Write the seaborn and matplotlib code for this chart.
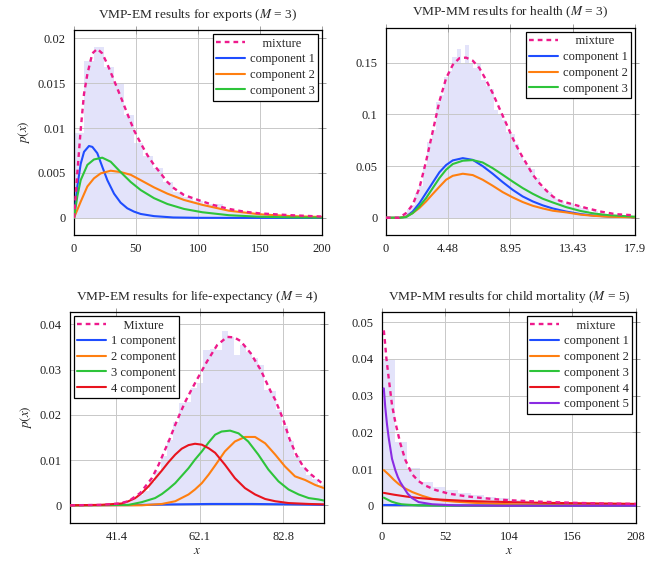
import numpy as np
import pandas as pd
import seaborn as sns
import matplotlib.pyplot as plt

# ---- exports (VMP-EM, M=3) ----
exp_mix_x = [0, 2.7, 5.4, 8.1, 10.8, 14.8, 18.8, 22.8, 26.9, 32.3, 37.6, 43, 48.4, 53.8, 59.1, 64.5,
             69.9, 75.3, 80.6, 88.7, 100, 112, 125, 137, 150, 175, 200]
exp_mix_y = [0, 0.0050, 0.0098, 0.0138, 0.0160, 0.0183, 0.0188, 0.0183, 0.0171, 0.0153, 0.0135, 0.0116,
             0.00975, 0.0083, 0.0070, 0.0059, 0.00495, 0.0040, 0.0033, 0.00255, 0.0020, 0.00145, 0.0010,
             0.0007, 0.0005, 0.0003, 0.00015]
exp_c1_x = [0, 2.7, 5.4, 8.1, 12.1, 14.8, 18.8, 22.8, 26.9, 32.3, 37.6, 43, 48.4, 53.8, 64.5, 80, 100, 150, 200]
exp_c1_y = [0, 0.0035, 0.0060, 0.00735, 0.0080, 0.0079, 0.0072, 0.0057, 0.0042, 0.0027, 0.0017, 0.00107,
            0.0007, 0.00044, 0.0002, 0.00005, 0.00001, 0, 0]
exp_c2_x = [0, 2.7, 5.4, 10.8, 16.1, 21.5, 29.6, 37.6, 45.7, 53.8, 64.5, 75.3, 88.7, 103.5, 125, 150, 175, 200]
exp_c2_y = [0, 0.0009, 0.0018, 0.0035, 0.0044, 0.00495, 0.00525, 0.0051, 0.0048, 0.0042, 0.0034, 0.0027,
            0.0020, 0.00145, 0.0008, 0.0004, 0.0002, 0.0001]
exp_c3_x = [0, 2.7, 5.4, 10.8, 16.1, 22.8, 29.6, 37.6, 45.7, 53.8, 64.5, 75.3, 88.7, 103.5, 125, 150, 175, 200]
exp_c3_y = [0, 0.0024, 0.0042, 0.0059, 0.0065, 0.0067, 0.00625, 0.0051, 0.0040, 0.0031, 0.0022, 0.00155,
            0.0010, 0.00063, 0.0003, 0.00013, 0.00006, 0.00003]
exp_hist = [0.0095, 0.0175, 0.0190, 0.0168, 0.0150, 0.0114, 0.0083, 0.0069, 0.0056, 0.0040, 0.0029, 0.0023,
            0.0019, 0.0016, 0.0015, 0.0009, 0.0007, 0.0006, 0.0005, 0.0004, 0.0003, 0.0003, 0.0002, 0.0002,
            0.0001]

# ---- health (VMP-MM, M=3) ----
hea_mix_x = [0, 0.96, 1.44, 1.92, 2.40, 2.88, 3.36, 3.84, 4.32, 4.80, 5.28, 5.76, 6.24, 6.71, 7.19, 7.67,
             8.15, 8.63, 9.11, 9.59, 10.07, 10.55, 11.03, 11.51, 11.99, 12.47, 13.43, 14.5, 15.5, 16.5, 17.9]
hea_mix_y = [0, 0, 0.0045, 0.0126, 0.0287, 0.0545, 0.0835, 0.1126, 0.135, 0.148, 0.1545, 0.155, 0.152,
             0.145, 0.1335, 0.1206, 0.106, 0.0916, 0.077, 0.064, 0.053, 0.0416, 0.0335, 0.0265, 0.0206,
             0.0165, 0.013, 0.009, 0.0058, 0.0035, 0.0023]
hea_c_x = [0, 0.96, 1.44, 1.92, 2.40, 2.88, 3.36, 3.84, 4.32, 4.80, 5.52, 6.24, 6.95, 7.67, 8.39, 9.11,
           9.83, 10.55, 11.27, 11.99, 12.95, 14, 15, 16, 17.9]
hea_c1_y = [0, 0, 0.001, 0.006, 0.014, 0.024, 0.034, 0.044, 0.051, 0.0555, 0.0577, 0.056, 0.050, 0.0426,
            0.0345, 0.027, 0.0206, 0.0158, 0.012, 0.009, 0.006, 0.0035, 0.002, 0.0012, 0.0005]
hea_c2_y = [0, 0, 0.001, 0.0045, 0.0094, 0.0158, 0.023, 0.030, 0.0368, 0.0406, 0.0426, 0.0413, 0.0368,
            0.031, 0.0248, 0.0197, 0.0152, 0.0116, 0.009, 0.0068, 0.0052, 0.003, 0.0018, 0.001, 0.0004]
hea_c3_y = [0, 0, 0.0006, 0.0045, 0.011, 0.019, 0.0287, 0.0384, 0.0465, 0.052, 0.0552, 0.0558, 0.0535,
            0.048, 0.0416, 0.035, 0.0287, 0.0232, 0.0184, 0.0148, 0.0103, 0.0065, 0.004, 0.0025, 0.001]
hea_hist = [0, 0, 0, 0.001, 0.004, 0.008, 0.012, 0.024, 0.031, 0.050,
            0.073, 0.085, 0.112, 0.119, 0.136, 0.142, 0.156, 0.163, 0.150, 0.167,
            0.149, 0.145, 0.150, 0.133, 0.128, 0.125, 0.104, 0.100, 0.095, 0.083,
            0.081, 0.071, 0.060, 0.055, 0.050, 0.047, 0.038, 0.030, 0.028, 0.025,
            0.020, 0.018, 0.016, 0.013, 0.014, 0.010, 0.011, 0.009, 0.008, 0.006,
            0.007, 0.005, 0.004, 0.004, 0.003, 0.003, 0.002, 0.002, 0.002, 0.001]

# ---- life expectancy (VMP-EM, M=4) ----
life_mix_x = [30, 38, 42, 44.4, 47.3, 50.2, 51.9, 53.1, 54.7, 56.0, 57.2, 58.5, 60.0, 61.4, 63.9, 66.4,
              68.9, 70.6, 72.2, 74.7, 77.2, 79.7, 80.8, 82.8, 84.4, 86.0, 87.7, 89.7, 91.8, 93]
life_mix_y = [0, 0.0001, 0.0004, 0.0009, 0.0027, 0.0060, 0.0090, 0.0115, 0.0148, 0.0178, 0.0203, 0.0229,
              0.0255, 0.0278, 0.0318, 0.0354, 0.0372, 0.0371, 0.0363, 0.0336, 0.0299, 0.0251, 0.0233,
              0.0189, 0.0145, 0.0112, 0.0086, 0.0068, 0.0053, 0.0045]
life_c1_x = [30, 45, 55, 65, 75, 85, 93]
life_c1_y = [0, 0.00005, 0.0002, 0.0003, 0.0003, 0.0002, 0.0001]
life_c2_x = [30, 47.7, 52.7, 56.0, 59.3, 60.9, 62.6, 64.3, 65.9, 68.3, 70.8, 73.3, 75.8, 78.3, 80.8, 83.2,
             85.7, 88.2, 90.7, 93.2]
life_c2_y = [0, 0, 0.0003, 0.0009, 0.0024, 0.0035, 0.0049, 0.0068, 0.0088, 0.0119, 0.0141, 0.0151, 0.0151,
             0.0137, 0.0112, 0.0086, 0.0064, 0.0056, 0.0045, 0.0037]
life_c3_x = [30, 44.4, 47.7, 51.0, 52.7, 54.3, 56.0, 57.6, 59.3, 60.9, 62.6, 64.3, 65.9, 67.5, 69.6, 71.7,
             74.1, 76.6, 79.1, 81.6, 84.1, 86.6, 89.1, 91.5, 93.2]
life_c3_y = [0, 0.0001, 0.0007, 0.0016, 0.0025, 0.0036, 0.0049, 0.0065, 0.0082, 0.0101, 0.0119, 0.0139,
             0.0156, 0.0163, 0.0165, 0.0159, 0.0141, 0.0112, 0.0079, 0.0053, 0.0035, 0.0024, 0.0016,
             0.0013, 0.0010]
life_c4_x = [30, 37.4, 42.7, 44.4, 46.1, 47.7, 49.4, 51.0, 52.7, 54.3, 56.0, 57.6, 59.3, 60.9, 62.6, 64.3,
             65.9, 68.3, 70.8, 73.3, 75.8, 78.3, 80.8, 84.1, 89.1, 93.2]
life_c4_y = [0, 0.0001, 0.0004, 0.0009, 0.0016, 0.0027, 0.0042, 0.0059, 0.0077, 0.0095, 0.0112, 0.0125,
             0.0133, 0.0136, 0.0134, 0.0126, 0.0116, 0.0090, 0.0060, 0.0038, 0.0024, 0.0014, 0.0009,
             0.0005, 0.0003, 0.0002]
life_hist = [0, 0, 0, 0, 0, 0, 0, 0.0002, 0.0005, 0.0008, 0.0015, 0.0022, 0.0032, 0.0052, 0.0075, 0.011,
             0.0145, 0.0185, 0.0225, 0.0228, 0.026, 0.027, 0.0342, 0.0345, 0.0342, 0.0386, 0.0372, 0.0332,
             0.0355, 0.0338, 0.0325, 0.031, 0.0255, 0.0252, 0.021, 0.0175, 0.0142, 0.011, 0.0085, 0.0068,
             0.0058, 0.0045]

# ---- child mortality (VMP-MM, M=5) ----
cm_mix_x = [1.5, 2.7, 3.5, 5.5, 8.2, 10.9, 15.0, 19.1, 24.6, 30, 35.5, 43.7, 54.6, 68.3, 81.9, 95.5, 104,
            130, 156, 182, 208]
cm_mix_y = [0.0478, 0.0437, 0.0405, 0.0348, 0.0275, 0.0228, 0.0170, 0.0125, 0.0086, 0.0067, 0.0055, 0.0043,
            0.0033, 0.0026, 0.0021, 0.0017, 0.0015, 0.0011, 0.0008, 0.0006, 0.0005]
cm_c1_x = [1.5, 50, 100, 208]
cm_c1_y = [0.0002, 0.0001, 0.00005, 0]
cm_c2_x = [1.5, 5.5, 9.6, 13.7, 19, 25, 33, 41, 50, 60, 75, 95, 120, 156, 208]
cm_c2_y = [0.0097, 0.0085, 0.0071, 0.0059, 0.0047, 0.0037, 0.0027, 0.0019, 0.0014, 0.0011, 0.0008, 0.0005,
           0.0003, 0.0002, 0.0001]
cm_c3_x = [1.5, 5, 8, 12, 16, 20, 30, 40, 60, 208]
cm_c3_y = [0.0022, 0.0016, 0.0011, 0.0007, 0.0004, 0.0003, 0.0001, 0.00005, 0, 0]
cm_c4_x = [1.5, 10, 20, 30, 41, 52, 70, 90, 104, 130, 156, 182, 208]
cm_c4_y = [0.0035, 0.0030, 0.0025, 0.0021, 0.0018, 0.0016, 0.0013, 0.0011, 0.0010, 0.0008, 0.0007, 0.0006,
           0.0005]
cm_c5_x = [1.5, 2.7, 4.1, 5.5, 8.2, 10.9, 13.0, 15.0, 17.7, 21, 24.6, 30, 41, 60, 100, 208]
cm_c5_y = [0.032, 0.0268, 0.0222, 0.0185, 0.0128, 0.0097, 0.0078, 0.0064, 0.0050, 0.0033, 0.0021, 0.0010,
           0.0004, 0.0001, 0, 0]
cm_hist = [0.0397, 0.0174, 0.0102, 0.0065, 0.0050, 0.0042, 0.0035, 0.0028, 0.0024, 0.0020, 0.0016, 0.0013,
           0.0011, 0.0009, 0.0008, 0.0007, 0.0006, 0.0005, 0.0005, 0.0004]

# ---- ticks ----
exp_xticks = [0, 50, 100, 150, 200]
exp_yticks = [0, 0.005, 0.01, 0.015, 0.02]
exp_ylabels = ['0', '0.005', '0.01', '0.015', '0.02']
hea_xticks = [0, 4.475, 8.95, 13.425, 17.9]
hea_xlabels = ['0', '4.48', '8.95', '13.43', '17.9']
hea_yticks = [0, 0.05, 0.1, 0.15]
hea_ylabels = ['0', '0.05', '0.1', '0.15']
life_xticks = [41.4, 62.1, 82.8]
life_yticks = [0, 0.01, 0.02, 0.03, 0.04]
life_ylabels = ['0', '0.01', '0.02', '0.03', '0.04']
cm_xticks = [0, 52, 104, 156, 208]
cm_yticks = [0, 0.01, 0.02, 0.03, 0.04, 0.05]
cm_ylabels = ['0', '0.01', '0.02', '0.03', '0.04', '0.05']

MIX = '#EE1A8C'
C_BLUE = '#1F4DFF'
C_ORANGE = '#FF7F10'
C_GREEN = '#2EC43A'
C_RED = '#E8141E'
C_PURPLE = '#8A2BE2'
HIST = '#E3E3FA'

sns.set_theme(style='white')
plt.rcParams['font.family'] = ['Liberation Serif', 'DejaVu Serif']
plt.rcParams['mathtext.fontset'] = 'stix'

fig = plt.figure(figsize=(6.57, 5.63), dpi=100)
ax_tl = fig.add_axes([0.1126, 0.5826, 0.3775, 0.3641])
ax_tr = fig.add_axes([0.5875, 0.5826, 0.3790, 0.3677])
ax_bl = fig.add_axes([0.1065, 0.0711, 0.3867, 0.3747])
ax_br = fig.add_axes([0.5814, 0.0711, 0.3866, 0.3747])


def draw_hist(ax, edges, heights):
    edges = [float(e) for e in edges]
    centers = [(a + b) / 2 for a, b in zip(edges[:-1], edges[1:])]
    df = pd.DataFrame({'x': centers, 'w': heights})
    sns.histplot(data=df, x='x', weights='w', bins=edges, element='step', fill=True,
                 color=HIST, alpha=1, linewidth=0, ax=ax, zorder=0.8)


def curve(ax, x, y, color, label, mix=False):
    if mix:
        sns.lineplot(x=x, y=y, ax=ax, color=color, lw=1.7, linestyle=(0, (2.0, 1.7)), label=label,
                     zorder=4)
    else:
        sns.lineplot(x=x, y=y, ax=ax, color=color, lw=1.5, label=label, zorder=3)


def style(ax, title, xlim, ylim, xticks, xlabels, yticks, ylabels, loc, xlabel=None, ylabel=None):
    ax.set_xlim(*xlim)
    ax.set_ylim(*ylim)
    ax.set_xticks(xticks)
    ax.set_xticklabels(xlabels, fontsize=9)
    ax.set_yticks(yticks)
    ax.set_yticklabels(ylabels, fontsize=9)
    ax.set_title(title, fontsize=9.6, pad=9)
    ax.set_xlabel(xlabel if xlabel else '', fontsize=9.5, labelpad=1)
    ax.set_ylabel(ylabel if ylabel else '', fontsize=9.5, labelpad=4)
    ax.grid(True, color='#c8c8c8', lw=0.7)
    ax.set_axisbelow('line')
    ax.tick_params(direction='inout', length=6, width=0.7, color='#a0a0a0', top=True, right=True,
                   labelcolor='#222222', pad=3)
    for sp in ax.spines.values():
        sp.set_color('black')
        sp.set_linewidth(0.9)
    leg = ax.legend(loc=loc, fontsize=9, frameon=True, fancybox=False, framealpha=1, edgecolor='black',
                    handlelength=2.3, handletextpad=0.35, labelspacing=0.3, borderpad=0.3,
                    borderaxespad=0.3)
    leg.get_frame().set_linewidth(0.9)


# exports
draw_hist(ax_tl, np.arange(0, 201, 8), exp_hist)
curve(ax_tl, exp_mix_x, exp_mix_y, MIX, '    mixture', mix=True)
curve(ax_tl, exp_c1_x, exp_c1_y, C_BLUE, 'component 1')
curve(ax_tl, exp_c2_x, exp_c2_y, C_ORANGE, 'component 2')
curve(ax_tl, exp_c3_x, exp_c3_y, C_GREEN, 'component 3')
style(ax_tl, 'VMP-EM results for exports ($M$ = 3)', (0, 200), (-0.0019, 0.0209),
      exp_xticks, [str(t) for t in exp_xticks], exp_yticks, exp_ylabels, 'upper right', ylabel='$p(x)$')

# health
draw_hist(ax_tr, np.linspace(0, 17.9, 61), hea_hist)
curve(ax_tr, hea_mix_x, hea_mix_y, MIX, '    mixture', mix=True)
curve(ax_tr, hea_c_x, hea_c1_y, C_BLUE, 'component 1')
curve(ax_tr, hea_c_x, hea_c2_y, C_ORANGE, 'component 2')
curve(ax_tr, hea_c_x, hea_c3_y, C_GREEN, 'component 3')
style(ax_tr, 'VMP-MM results for health ($M$ = 3)', (0, 17.9), (-0.0167, 0.1837),
      hea_xticks, hea_xlabels, hea_yticks, hea_ylabels, 'upper right')

# life expectancy
draw_hist(ax_bl, np.arange(30, 93.1, 1.5), life_hist)
curve(ax_bl, life_mix_x, life_mix_y, MIX, '    Mixture', mix=True)
curve(ax_bl, life_c1_x, life_c1_y, C_BLUE, '1 component')
curve(ax_bl, life_c2_x, life_c2_y, C_ORANGE, '2 component')
curve(ax_bl, life_c3_x, life_c3_y, C_GREEN, '3 component')
curve(ax_bl, life_c4_x, life_c4_y, C_RED, '4 component')
style(ax_bl, 'VMP-EM results for life-expectancy ($M$ = 4)', (29.9, 92.9), (-0.0039, 0.0427),
      life_xticks, [str(t) for t in life_xticks], life_yticks, life_ylabels, 'upper left',
      xlabel='$x$', ylabel='$p(x)$')

# child mortality
draw_hist(ax_br, np.arange(0, 208.1, 10.4), cm_hist)
curve(ax_br, cm_mix_x, cm_mix_y, MIX, '    mixture', mix=True)
curve(ax_br, cm_c1_x, cm_c1_y, C_BLUE, 'component 1')
curve(ax_br, cm_c2_x, cm_c2_y, C_ORANGE, 'component 2')
curve(ax_br, cm_c3_x, cm_c3_y, C_GREEN, 'component 3')
curve(ax_br, cm_c4_x, cm_c4_y, C_RED, 'component 4')
curve(ax_br, cm_c5_x, cm_c5_y, C_PURPLE, 'component 5')
style(ax_br, 'VMP-MM results for child mortality ($M$ = 5)', (0, 208), (-0.0047, 0.0528),
      cm_xticks, [str(t) for t in cm_xticks], cm_yticks, cm_ylabels, 'upper right', xlabel='$x$')

fig.savefig('out.png', dpi=100)
